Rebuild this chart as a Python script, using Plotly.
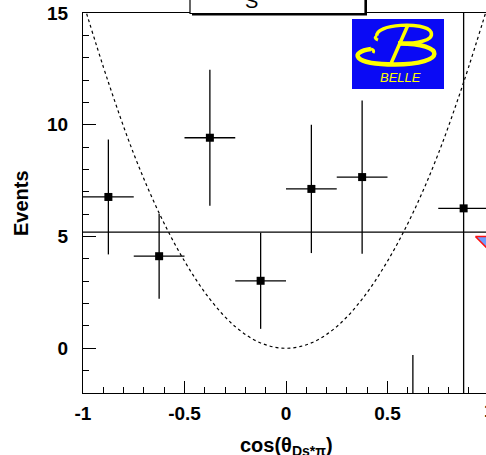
import plotly.graph_objects as go

# ---- data ----
bin_centers = [-0.875, -0.625, -0.375, -0.125, 0.125, 0.375, 0.625, 0.875]
bin_half_width = [0.125] * 8
events = [6.77, 4.12, 9.42, 3.02, 7.13, 7.66, -2.6, 6.26]
events_err = [2.57, 1.9, 3.04, 2.15, 2.87, 3.43, 2.3, 20.0]

fit_level = 5.2

curve_x = [-1.0, -0.875, -0.75, -0.625, -0.5, -0.375, -0.25, -0.125, 0.0,
           0.125, 0.25, 0.375, 0.5, 0.625, 0.75, 0.875, 1.0]
curve_y = [15.5, 11.9, 8.7, 6.05, 3.9, 2.2, 0.97, 0.24, 0.0,
           0.24, 0.97, 2.2, 3.9, 6.05, 8.7, 11.9, 15.5]

x_tick_vals = [-1, -0.5, 0, 0.5]
x_tick_text = ["-1", "-0.5", "0", "0.5"]
y_tick_vals = [0, 5, 10, 15]
y_tick_text = ["0", "5", "10", "15"]

W, H = 486, 455
ML, MR, MT, MB = 83, 0, 13, 62
PW, PH = W - ML - MR, H - MT - MB


def px(xp):
    return (xp - ML) / PW


def py(yp):
    return (H - MB - yp) / PH


FONT = "Liberation Sans, Arial, sans-serif"

fig = go.Figure()

# dashed cos^2 curve
fig.add_trace(go.Scatter(
    x=curve_x, y=curve_y, mode="lines", line_shape="spline",
    line=dict(color="black", width=1.2, dash="3px,3px"),
    hoverinfo="skip", showlegend=False))

# small cropped marker at right edge
fig.add_trace(go.Scatter(
    x=[0.933, 1.0, 1.0, 0.933], y=[5.0, 5.0, 4.39, 5.0], mode="lines",
    fill="toself", fillcolor="#6f9dff", line=dict(color="#ff1010", width=1.5),
    hoverinfo="skip", showlegend=False))

# data points
fig.add_trace(go.Scatter(
    x=bin_centers, y=events, mode="markers",
    marker=dict(symbol="square", size=8, color="black"),
    error_y=dict(type="data", array=events_err, color="black", thickness=1.3, width=0),
    error_x=dict(type="data", array=bin_half_width, color="black", thickness=1.3, width=0),
    showlegend=False))

shapes = [
    dict(type="line", xref="x domain", x0=0, x1=1, yref="y", y0=fit_level, y1=fit_level,
         line=dict(color="black", width=1.2), layer="above"),
    # title box shadow + box
    dict(type="rect", xref="paper", yref="paper", x0=px(192), x1=px(367), y0=py(15.5), y1=py(-10),
         fillcolor="black", line=dict(width=0), layer="above"),
    dict(type="rect", xref="paper", yref="paper", x0=px(190), x1=px(365), y0=py(13.5), y1=py(-10),
         fillcolor="white", line=dict(color="black", width=1.2), layer="above"),
    # Belle logo
    dict(type="rect", xref="paper", yref="paper", x0=px(352), x1=px(444), y0=py(89), y1=py(19),
         fillcolor="#0a0af5", line=dict(width=0), layer="above"),
]


def path(points_cmd):
    out = []
    for tok in points_cmd:
        if isinstance(tok, str):
            out.append(tok)
        else:
            out.append(f"{px(tok[0]):.5f},{py(tok[1]):.5f}")
    return " ".join(out)


yellow = "#ffff00"
logo_paths = [
    # top loop
    ["M", (377, 36), "C", (374, 24), (425, 21), (431, 32), "C", (435, 41), (415, 44), (398, 43.5)],
    # top curl
    ["M", (377, 36), "Q", (373, 38), (378, 40)],
    # bottom loop
    ["M", (371, 49), "C", (349, 52), (352, 64.5), (395, 64.5), "C", (447, 64.5), (447, 43), (398, 43.5)],
    # bottom curl
    ["M", (371, 49), "Q", (375, 50), (373, 53)],
    # stem
    ["M", (407.5, 26), "L", (391, 63.5)],
]
widths = [3.5, 3, 4.5, 3, 3.5]
for p, w in zip(logo_paths, widths):
    shapes.append(dict(type="path", xref="paper", yref="paper", path=path(p),
                       line=dict(color=yellow, width=w), layer="above"))

annotations = [
    dict(text="BELLE", xref="paper", yref="paper", x=px(400), y=py(78), xanchor="center",
         yanchor="middle", showarrow=False,
         font=dict(family=FONT, size=13, color=yellow, style="italic")),
    dict(text="S", xref="paper", yref="paper", x=px(251), y=py(1), xanchor="center",
         yanchor="middle", showarrow=False, font=dict(family=FONT, size=20, color="black")),
    dict(text="Events", xref="paper", yref="paper", x=0, y=0.5, xshift=-62, textangle=-90,
         xanchor="center", yanchor="middle", showarrow=False,
         font=dict(family=FONT, size=20, color="black", weight="bold")),
    dict(text="cos(θ<sub>Ds*π</sub>)", xref="x", yref="paper", x=0, y=0, yshift=-53,
         xanchor="center", yanchor="middle", showarrow=False,
         font=dict(family=FONT, size=20, color="black", weight="bold")),
    dict(text="1", xref="paper", yref="paper", x=px(489), y=0, yshift=-17,
         xanchor="center", yanchor="middle", showarrow=False,
         font=dict(family=FONT, size=19, color="black", weight="bold")),
]

fig.update_layout(
    width=W, height=H, margin=dict(l=ML, r=MR, t=MT, b=MB),
    paper_bgcolor="white", plot_bgcolor="white",
    shapes=shapes, annotations=annotations, showlegend=False,
    xaxis=dict(range=[-1, -1 + PW / 203.0], showgrid=False, zeroline=False,
               showline=True, linecolor="black", linewidth=1.3, mirror=True,
               ticks="inside", ticklen=12, tickwidth=1.2, tickcolor="black",
               tickvals=x_tick_vals, ticktext=x_tick_text,
               tickfont=dict(family=FONT, size=19, color="black", weight="bold"),
               ticklabelstandoff=3,
               minor=dict(ticks="inside", ticklen=6, dtick=0.1, tick0=0, tickcolor="black",
                          tickwidth=1, showgrid=False)),
    yaxis=dict(range=[-2, 15], showgrid=False, zeroline=False,
               showline=True, linecolor="black", linewidth=1.3,
               ticks="inside", ticklen=13, tickwidth=1.2, tickcolor="black",
               tickvals=y_tick_vals, ticktext=y_tick_text,
               tickfont=dict(family=FONT, size=19, color="black", weight="bold"),
               ticklabelstandoff=10,
               minor=dict(ticks="inside", ticklen=6, dtick=1, tick0=0, tickcolor="black",
                          tickwidth=1, showgrid=False)),
)

fig.write_html("out.html")
